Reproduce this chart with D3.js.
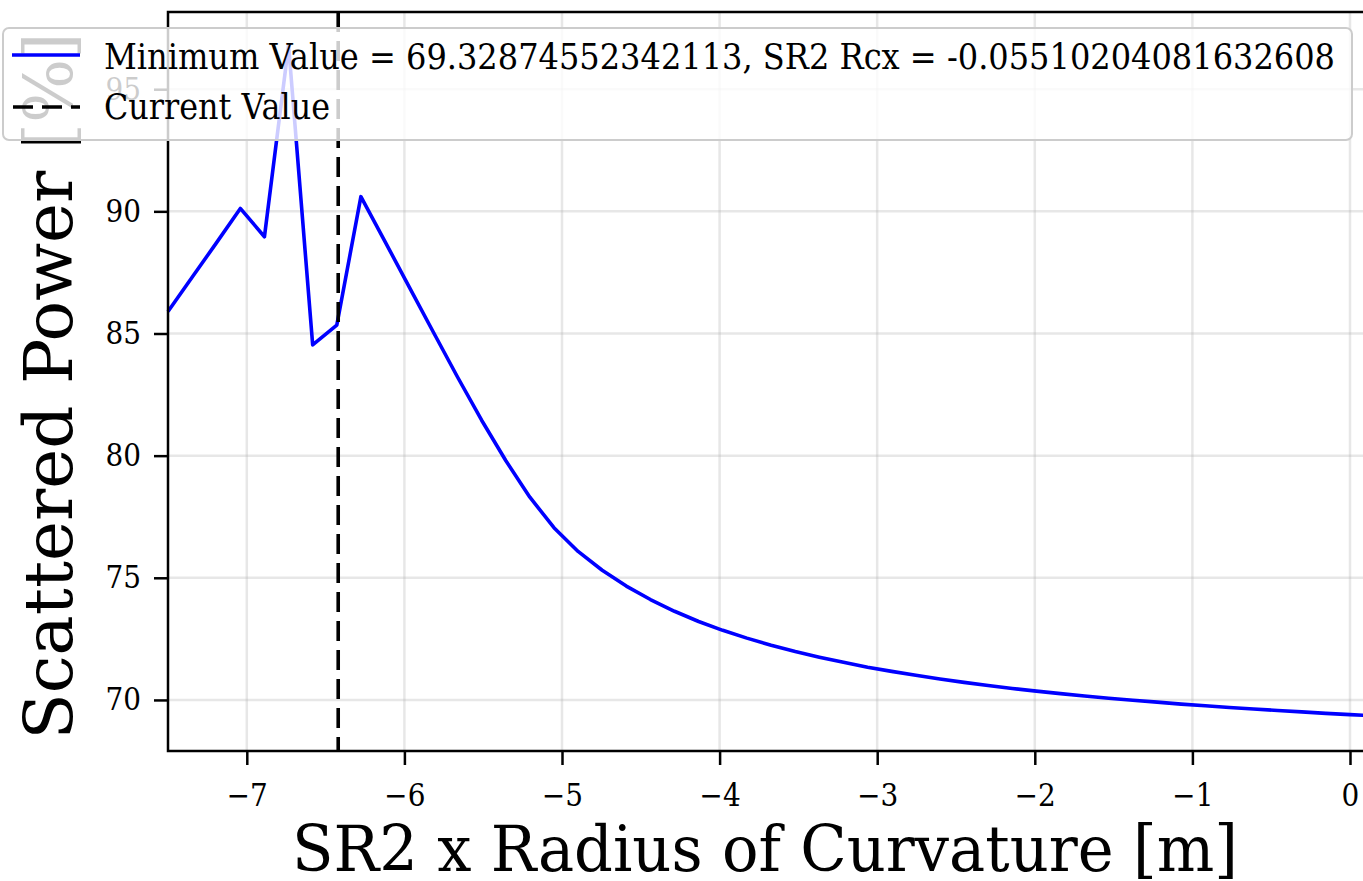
<!DOCTYPE html>
<html>
<head>
<meta charset="utf-8">
<script src="https://cdn.jsdelivr.net/npm/d3@7"></script>
<style>
  body { margin: 0; background: #fff; }
  text { font-family: "DejaVu Serif", serif; fill: #000; }
</style>
</head>
<body>
<div id="chart"></div>
<script>
// Scan of the SR2 x radius of curvature
const radiusValues = [
  -7.500, -7.347, -7.194, -7.041, -6.888, -6.735, -6.582, -6.429, -6.276, -6.122,
  -5.969, -5.816, -5.663, -5.510, -5.357, -5.204, -5.051, -4.898, -4.745, -4.592,
  -4.439, -4.286, -4.133, -3.980, -3.827, -3.673, -3.520, -3.367, -3.214, -3.061,
  -2.908, -2.755, -2.602, -2.449, -2.296, -2.143, -1.990, -1.837, -1.684, -1.531,
  -1.378, -1.224, -1.071, -0.918, -0.765, -0.612, -0.459, -0.306, -0.153, 0.000,
  0.153
];
const powerValues = [
  85.9, 87.3, 88.7, 90.12, 88.96, 96.8, 84.53, 85.34, 90.6, 88.75,
  86.9, 85.05, 83.22, 81.45, 79.80, 78.30, 77.05, 76.08, 75.31, 74.66,
  74.11, 73.63, 73.21, 72.85, 72.53, 72.24, 71.98, 71.75, 71.54, 71.34,
  71.17, 71.01, 70.86, 70.72, 70.59, 70.47, 70.36, 70.26, 70.16, 70.07,
  69.99, 69.91, 69.83, 69.76, 69.69, 69.63, 69.57, 69.51, 69.45, 69.40,
  69.35
];
const currentRadius = -6.42;
const legendLabels = [
  "Minimum Value = 69.32874552342113, SR2 Rcx = -0.05510204081632608",
  "Current Value"
];
const xTickValues = [-7, -6, -5, -4, -3, -2, -1, 0];
const yTickValues = [70, 75, 80, 85, 90, 95];

const W = 1363, H = 881;
// plot area (right side is cut by the picture edge)
const plot = {left: 168, top: 12, right: 1366, bottom: 751};

const svg = d3.select("#chart").append("svg")
    .attr("width", W)
    .attr("height", H);

const x = d3.scaleLinear().domain([-7.5, 0]).range([plot.left, 1350]);
const y = d3.scaleLinear().domain([67.91, 98.16]).range([plot.bottom, plot.top]);

// text in the picture is a bit narrower than the font: squeeze it
function squeeze(sel, k) {
    sel.each(function() {
        const w = this.getComputedTextLength();
        d3.select(this).attr("textLength", w * k).attr("lengthAdjust", "spacingAndGlyphs");
    });
}

// grid
const grid = svg.append("g");
grid.selectAll(".gx").data(xTickValues).join("line")
    .attr("x1", d => x(d)).attr("x2", d => x(d))
    .attr("y1", plot.top).attr("y2", plot.bottom)
    .attr("stroke", "#b0b0b0").attr("stroke-opacity", 0.3).attr("stroke-width", 2.5);
grid.selectAll(".gy").data(yTickValues).join("line")
    .attr("x1", plot.left).attr("x2", plot.right)
    .attr("y1", d => y(d)).attr("y2", d => y(d))
    .attr("stroke", "#b0b0b0").attr("stroke-opacity", 0.3).attr("stroke-width", 2.5);

// the scan
const line = d3.line()
    .x((d, i) => x(radiusValues[i]))
    .y(d => y(d));

svg.append("path")
    .datum(powerValues)
    .attr("fill", "none")
    .attr("stroke", "#0000ff")
    .attr("stroke-width", 3.6)
    .attr("stroke-linejoin", "round")
    .attr("d", line);

// current value
svg.append("line")
    .attr("x1", x(currentRadius)).attr("x2", x(currentRadius))
    .attr("y1", plot.top).attr("y2", plot.bottom)
    .attr("stroke", "#000")
    .attr("stroke-width", 3.6)
    .attr("stroke-dasharray", "20 9");

// axes
const xAxis = d3.axisBottom(x).tickValues(xTickValues).tickSize(14).tickPadding(19).tickSizeOuter(0);
const yAxis = d3.axisLeft(y).tickValues(yTickValues).tickSize(14).tickPadding(13).tickSizeOuter(0);

const gx = svg.append("g")
    .attr("transform", `translate(0,${plot.bottom})`)
    .call(xAxis);
const gy = svg.append("g")
    .attr("transform", `translate(${plot.left},0)`)
    .call(yAxis);

[gx, gy].forEach(g => {
    g.select(".domain").remove();
    g.selectAll(".tick line").attr("stroke", "#000").attr("stroke-width", 2.5);
    g.selectAll(".tick text")
        .attr("font-family", "DejaVu Serif")
        .attr("font-size", 31)
        .attr("fill", "#000")
        .call(squeeze, 0.9);
});

// spines (left, bottom, top)
svg.append("path")
    .attr("d", `M${plot.right},${plot.top}H${plot.left}V${plot.bottom}H${plot.right}`)
    .attr("fill", "none")
    .attr("stroke", "#000")
    .attr("stroke-width", 2.5);

// axis labels
svg.append("text")
    .attr("x", 765).attr("y", 871)
    .attr("text-anchor", "middle")
    .attr("font-size", 64)
    .attr("textLength", 946)
    .attr("lengthAdjust", "spacingAndGlyphs")
    .text("SR2 x Radius of Curvature [m]");

svg.append("text")
    .attr("transform", "translate(72,386) rotate(-90)")
    .attr("text-anchor", "middle")
    .attr("font-size", 67.5)
    .text("Scattered Power [%]");

// legend
const legend = svg.append("g");
legend.append("rect")
    .attr("x", 3).attr("y", 28)
    .attr("width", 1349).attr("height", 112)
    .attr("rx", 6)
    .attr("fill", "#fff").attr("fill-opacity", 0.8)
    .attr("stroke", "#cccccc").attr("stroke-width", 2);

legend.append("line")
    .attr("x1", 12).attr("x2", 80).attr("y1", 55).attr("y2", 55)
    .attr("stroke", "#0000ff").attr("stroke-width", 3.6);
legend.append("line")
    .attr("x1", 13).attr("x2", 80).attr("y1", 107).attr("y2", 107)
    .attr("stroke", "#000").attr("stroke-width", 3.6)
    .attr("stroke-dasharray", "20 9");

legend.selectAll("text.lab").data(legendLabels).join("text")
    .attr("class", "lab")
    .attr("x", 104)
    .attr("y", (d, i) => 69 + i * 50)
    .attr("font-size", 35)
    .attr("textLength", (d, i) => i === 0 ? 1231 : 226)
    .attr("lengthAdjust", "spacingAndGlyphs")
    .text(d => d);
</script>
</body>
</html>
